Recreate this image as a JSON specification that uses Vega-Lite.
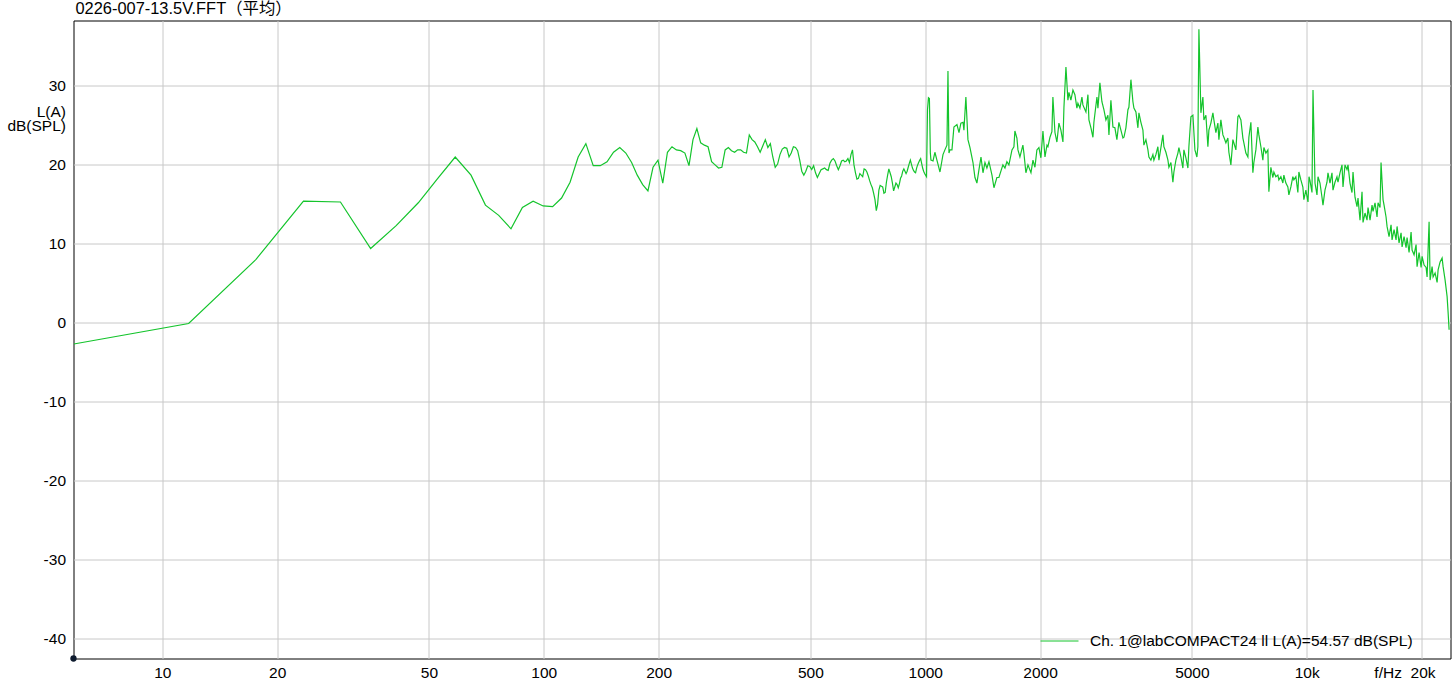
{
"$schema": "https://vega.github.io/schema/vega-lite/v6.json",
"width": 1377, "height": 638,
"autosize": {"type": "none"},
"padding": {"left": 73.5, "top": 20.5, "right": 1, "bottom": 33},
"background": "white",
"config": {"view": {"stroke": "#000", "strokeWidth": 1}, "font": "Liberation Sans"},
"title": {"text": "0226-007-13.5V.FFT（平均）", "anchor": "start", "frame": "group", "orient": "top", "baseline": "alphabetic", "offset": 7, "dx": 2, "dy": 17, "fontSize": 16.4, "fontWeight": "normal", "font": "Liberation Sans, Noto Sans CJK SC", "color": "#000"},
"datasets": {
"origin": [{"f": 5.849, "db": -42.56}],
"spectrum": [
{"f":5.86,"db":-2.7},{"f":11.72,"db":-0.1},{"f":17.58,"db":8.0},{"f":23.44,"db":15.4},{"f":29.3,"db":15.3},{"f":35.16,"db":9.4},{"f":41.02,"db":12.3},{"f":46.88,"db":15.2},{"f":52.73,"db":18.3},{"f":58.59,"db":21.0},
{"f":64.45,"db":18.7},{"f":70.31,"db":14.9},{"f":76.17,"db":13.6},{"f":82.03,"db":11.9},{"f":87.89,"db":14.6},{"f":93.75,"db":15.4},{"f":99.61,"db":14.8},{"f":105.47,"db":14.7},{"f":111.33,"db":15.8},{"f":117.19,"db":17.8},
{"f":123.05,"db":21.0},{"f":128.91,"db":22.7},{"f":134.77,"db":19.9},{"f":140.63,"db":19.9},{"f":146.48,"db":20.4},{"f":152.34,"db":21.6},{"f":158.2,"db":22.2},{"f":164.06,"db":21.5},{"f":169.92,"db":20.3},{"f":175.78,"db":18.7},
{"f":181.64,"db":17.5},{"f":187.5,"db":16.7},{"f":193.36,"db":19.7},{"f":199.22,"db":20.6},{"f":205.08,"db":17.7},{"f":210.94,"db":21.6},{"f":216.8,"db":22.3},{"f":222.66,"db":21.9},{"f":228.52,"db":21.8},{"f":234.38,"db":21.5},
{"f":240.23,"db":19.9},{"f":246.09,"db":23.2},{"f":251.95,"db":24.6},{"f":257.81,"db":22.8},{"f":263.67,"db":22.5},{"f":269.53,"db":22.3},{"f":275.39,"db":20.4},{"f":281.25,"db":20.0},{"f":287.11,"db":19.6},{"f":292.97,"db":19.7},
{"f":298.83,"db":21.9},{"f":304.69,"db":22.2},{"f":310.55,"db":21.8},{"f":316.41,"db":21.6},{"f":322.27,"db":21.9},{"f":328.13,"db":21.9},{"f":333.98,"db":21.6},{"f":339.84,"db":21.5},{"f":345.7,"db":23.8},{"f":351.56,"db":23.2},
{"f":357.42,"db":22.9},{"f":363.28,"db":22.3},{"f":369.14,"db":21.6},{"f":375.0,"db":22.4},{"f":380.86,"db":23.2},{"f":386.72,"db":22.2},{"f":392.58,"db":22.7},{"f":398.44,"db":21.0},{"f":404.3,"db":19.7},{"f":410.16,"db":20.1},
{"f":416.02,"db":21.3},{"f":421.88,"db":22.0},{"f":427.73,"db":22.2},{"f":433.59,"db":22.1},{"f":439.45,"db":21.0},{"f":445.31,"db":21.5},{"f":451.17,"db":22.3},{"f":457.03,"db":22.2},{"f":462.89,"db":21.8},{"f":468.75,"db":20.6},
{"f":474.61,"db":19.2},{"f":480.47,"db":18.7},{"f":486.33,"db":19.2},{"f":492.19,"db":19.9},{"f":498.05,"db":19.8},{"f":503.91,"db":19.4},{"f":509.77,"db":19.9},{"f":515.63,"db":19.0},{"f":521.48,"db":18.4},{"f":527.34,"db":18.9},
{"f":533.2,"db":19.4},{"f":539.06,"db":19.5},{"f":544.92,"db":19.6},{"f":550.78,"db":19.4},{"f":556.64,"db":19.3},{"f":562.5,"db":20.2},{"f":568.36,"db":20.6},{"f":574.22,"db":20.8},{"f":580.08,"db":20.5},{"f":585.94,"db":19.9},
{"f":591.8,"db":19.4},{"f":597.66,"db":19.9},{"f":603.52,"db":20.5},{"f":609.38,"db":20.6},{"f":615.23,"db":20.4},{"f":621.09,"db":20.5},{"f":626.95,"db":20.8},{"f":632.81,"db":20.3},{"f":638.67,"db":21.3},{"f":644.53,"db":21.9},
{"f":650.39,"db":20.0},{"f":656.25,"db":19.0},{"f":662.11,"db":18.2},{"f":667.97,"db":18.3},{"f":673.83,"db":18.9},{"f":679.69,"db":18.7},{"f":685.55,"db":18.5},{"f":691.41,"db":19.5},{"f":697.27,"db":19.4},{"f":703.13,"db":19.1},
{"f":708.98,"db":18.6},{"f":714.84,"db":18.0},{"f":720.7,"db":17.5},{"f":726.56,"db":17.1},{"f":732.42,"db":16.4},{"f":738.28,"db":15.6},{"f":744.14,"db":14.2},{"f":750.0,"db":15.0},{"f":755.86,"db":16.8},{"f":761.72,"db":17.4},
{"f":767.58,"db":17.3},{"f":773.44,"db":17.2},{"f":779.3,"db":16.4},{"f":785.16,"db":16.5},{"f":791.02,"db":17.8},{"f":796.88,"db":18.7},{"f":802.73,"db":19.5},{"f":808.59,"db":19.0},{"f":814.45,"db":18.5},{"f":820.31,"db":17.7},
{"f":826.17,"db":16.7},{"f":832.03,"db":17.2},{"f":837.89,"db":17.7},{"f":843.75,"db":17.5},{"f":849.61,"db":17.1},{"f":855.47,"db":17.6},{"f":861.33,"db":18.3},{"f":867.19,"db":18.6},{"f":873.05,"db":19.2},{"f":878.91,"db":19.5},
{"f":884.77,"db":19.2},{"f":890.63,"db":18.9},{"f":896.48,"db":19.2},{"f":902.34,"db":19.7},{"f":908.2,"db":20.2},{"f":914.06,"db":20.6},{"f":919.92,"db":20.1},{"f":925.78,"db":19.6},{"f":931.64,"db":19.3},{"f":937.5,"db":19.1},
{"f":943.36,"db":19.0},{"f":949.22,"db":19.6},{"f":955.08,"db":20.0},{"f":960.94,"db":20.3},{"f":966.8,"db":20.6},{"f":972.66,"db":20.8},{"f":978.52,"db":20.2},{"f":984.38,"db":19.6},{"f":990.23,"db":19.2},{"f":996.09,"db":18.9},
{"f":1001.95,"db":18.7},{"f":1007.81,"db":18.5},{"f":1013.67,"db":27.0},{"f":1019.53,"db":28.5},{"f":1025.39,"db":28.4},{"f":1031.25,"db":21.5},
{"f":1035,"db":20.6},{"f":1048,"db":20.5},{"f":1060,"db":21.6},{"f":1073,"db":20.6},{"f":1093,"db":19.1},{"f":1113,"db":21.3},{"f":1126,"db":21.9},{"f":1140,"db":22.5},{"f":1147,"db":31.9},{"f":1154,"db":21.5},
{"f":1161,"db":21.9},{"f":1175,"db":21.9},{"f":1189,"db":24.8},{"f":1211,"db":25.1},{"f":1226,"db":24.1},{"f":1240,"db":25.3},{"f":1256,"db":25.4},{"f":1263,"db":24.4},{"f":1278,"db":28.6},{"f":1294,"db":23.2},
{"f":1310,"db":22.2},{"f":1334,"db":20.3},{"f":1350,"db":18.4},{"f":1366,"db":17.7},{"f":1383,"db":19.4},{"f":1400,"db":21.0},{"f":1417,"db":19.0},{"f":1434,"db":20.3},{"f":1451,"db":19.6},{"f":1469,"db":20.4},
{"f":1496,"db":18.7},{"f":1514,"db":17.1},{"f":1541,"db":18.4},{"f":1560,"db":18.4},{"f":1598,"db":20.0},{"f":1618,"db":19.6},{"f":1637,"db":20.4},{"f":1657,"db":20.0},{"f":1688,"db":21.9},{"f":1708,"db":22.3},
{"f":1718,"db":24.3},{"f":1739,"db":23.4},{"f":1750,"db":21.9},{"f":1771,"db":21.0},{"f":1803,"db":22.5},{"f":1814,"db":21.5},{"f":1836,"db":19.0},{"f":1859,"db":20.0},{"f":1893,"db":19.0},{"f":1916,"db":20.6},
{"f":1939,"db":19.7},{"f":1962,"db":21.9},{"f":1986,"db":22.2},{"f":2010,"db":20.9},{"f":2035,"db":24.3},{"f":2060,"db":21.0},{"f":2085,"db":22.5},{"f":2097,"db":22.3},{"f":2123,"db":23.5},{"f":2148,"db":24.2},
{"f":2161,"db":28.6},{"f":2188,"db":24.1},{"f":2214,"db":22.9},{"f":2241,"db":25.3},{"f":2268,"db":24.4},{"f":2296,"db":22.9},{"f":2310,"db":27.3},{"f":2338,"db":32.4},{"f":2366,"db":28.2},{"f":2381,"db":29.2},
{"f":2409,"db":28.2},{"f":2439,"db":29.5},{"f":2468,"db":28.9},{"f":2498,"db":27.2},{"f":2513,"db":27.8},{"f":2544,"db":27.2},{"f":2575,"db":28.6},{"f":2590,"db":27.6},{"f":2638,"db":26.7},{"f":2670,"db":28.9},
{"f":2686,"db":25.7},{"f":2719,"db":24.7},{"f":2752,"db":23.5},{"f":2768,"db":25.4},{"f":2819,"db":28.6},{"f":2836,"db":27.2},{"f":2870,"db":30.4},{"f":2905,"db":28.0},{"f":2940,"db":27.0},{"f":2976,"db":25.7},
{"f":3012,"db":26.3},{"f":3031,"db":23.8},{"f":3067,"db":28.2},{"f":3105,"db":24.8},{"f":3142,"db":24.7},{"f":3180,"db":23.2},{"f":3219,"db":25.4},{"f":3258,"db":24.4},{"f":3298,"db":23.4},{"f":3318,"db":23.5},
{"f":3358,"db":24.7},{"f":3399,"db":27.0},{"f":3419,"db":27.3},{"f":3461,"db":30.8},{"f":3503,"db":28.0},{"f":3524,"db":27.2},{"f":3567,"db":26.7},{"f":3610,"db":24.7},{"f":3632,"db":26.6},{"f":3676,"db":25.4},
{"f":3721,"db":24.4},{"f":3743,"db":22.5},{"f":3789,"db":23.2},{"f":3835,"db":21.9},{"f":3858,"db":21.0},{"f":3905,"db":20.6},{"f":3952,"db":21.3},{"f":3976,"db":20.6},{"f":4024,"db":21.3},{"f":4073,"db":22.3},
{"f":4098,"db":20.6},{"f":4148,"db":22.2},{"f":4198,"db":23.8},{"f":4223,"db":22.3},{"f":4275,"db":21.6},{"f":4327,"db":20.6},{"f":4353,"db":19.7},{"f":4406,"db":20.3},{"f":4459,"db":17.8},{"f":4486,"db":19.1},
{"f":4541,"db":20.6},{"f":4596,"db":21.5},{"f":4624,"db":22.2},{"f":4680,"db":21.0},{"f":4736,"db":19.6},{"f":4765,"db":21.9},{"f":4823,"db":20.9},{"f":4882,"db":19.6},{"f":4911,"db":22.3},{"f":4971,"db":26.1},
{"f":5031,"db":26.3},{"f":5093,"db":21.9},{"f":5154,"db":21.0},{"f":5185,"db":22.3},{"f":5217,"db":37.2},{"f":5280,"db":26.6},{"f":5344,"db":28.6},{"f":5376,"db":25.7},{"f":5442,"db":26.3},{"f":5508,"db":22.3},
{"f":5541,"db":24.4},{"f":5608,"db":25.3},{"f":5677,"db":26.6},{"f":5711,"db":25.7},{"f":5780,"db":24.1},{"f":5850,"db":25.3},{"f":5886,"db":23.2},{"f":5957,"db":25.7},{"f":6030,"db":23.8},{"f":6066,"db":23.5},
{"f":6140,"db":22.8},{"f":6214,"db":23.4},{"f":6252,"db":21.6},{"f":6328,"db":20.0},{"f":6405,"db":23.2},{"f":6443,"db":22.8},{"f":6522,"db":21.9},{"f":6601,"db":26.1},{"f":6641,"db":26.3},{"f":6722,"db":25.7},
{"f":6803,"db":23.4},{"f":6844,"db":22.8},{"f":6927,"db":21.5},{"f":7012,"db":21.0},{"f":7054,"db":23.5},{"f":7140,"db":25.4},{"f":7226,"db":19.0},{"f":7270,"db":20.3},{"f":7358,"db":21.9},{"f":7448,"db":24.8},
{"f":7493,"db":23.8},{"f":7584,"db":22.3},{"f":7676,"db":20.6},{"f":7722,"db":22.2},{"f":7816,"db":21.5},{"f":7911,"db":21.9},{"f":7959,"db":16.6},{"f":8056,"db":19.7},{"f":8153,"db":18.4},{"f":8203,"db":19.1},
{"f":8302,"db":18.5},{"f":8403,"db":18.7},{"f":8454,"db":18.1},{"f":8557,"db":18.5},{"f":8661,"db":17.7},{"f":8713,"db":18.7},{"f":8819,"db":17.7},{"f":8926,"db":17.2},{"f":8980,"db":16.2},{"f":9089,"db":17.2},
{"f":9199,"db":18.5},{"f":9255,"db":18.1},{"f":9368,"db":18.5},{"f":9481,"db":16.5},{"f":9539,"db":19.1},{"f":9655,"db":18.1},{"f":9772,"db":17.2},{"f":9831,"db":15.6},{"f":9950,"db":16.8},{"f":10079,"db":15.3},
{"f":10140,"db":18.5},{"f":10201,"db":18.0},{"f":10325,"db":16.5},{"f":10388,"db":29.5},{"f":10514,"db":17.7},{"f":10641,"db":16.2},{"f":10706,"db":18.5},{"f":10835,"db":17.7},{"f":10967,"db":15.9},{"f":11033,"db":14.9},
{"f":11167,"db":16.8},{"f":11303,"db":17.8},{"f":11371,"db":19.0},{"f":11509,"db":17.7},{"f":11649,"db":19.0},{"f":11720,"db":16.8},{"f":11862,"db":17.8},{"f":12006,"db":18.5},{"f":12079,"db":17.8},{"f":12226,"db":19.0},
{"f":12375,"db":20.0},{"f":12450,"db":17.2},{"f":12601,"db":20.0},{"f":12754,"db":19.4},{"f":12832,"db":20.0},{"f":12988,"db":17.7},{"f":13146,"db":16.5},{"f":13226,"db":19.1},{"f":13386,"db":15.9},{"f":13549,"db":14.7},
{"f":13631,"db":15.8},{"f":13797,"db":13.0},{"f":13965,"db":16.6},{"f":14050,"db":12.7},{"f":14220,"db":13.9},{"f":14393,"db":13.0},{"f":14481,"db":14.6},{"f":14657,"db":13.0},{"f":14835,"db":14.9},{"f":14925,"db":14.1},
{"f":15106,"db":15.2},{"f":15290,"db":13.4},{"f":15383,"db":15.2},{"f":15570,"db":14.6},{"f":15664,"db":20.3},{"f":15855,"db":15.6},{"f":15951,"db":14.9},{"f":16145,"db":13.4},{"f":16243,"db":12.2},{"f":16440,"db":10.9},
{"f":16640,"db":12.4},{"f":16741,"db":10.5},{"f":16945,"db":11.8},{"f":17151,"db":10.5},{"f":17255,"db":12.2},{"f":17464,"db":10.1},{"f":17677,"db":11.4},{"f":17784,"db":9.6},{"f":18000,"db":10.9},{"f":18219,"db":9.5},
{"f":18329,"db":10.8},{"f":18552,"db":8.9},{"f":18778,"db":11.5},{"f":18892,"db":9.2},{"f":19121,"db":8.6},{"f":19354,"db":9.9},{"f":19471,"db":7.1},{"f":19708,"db":8.9},{"f":19948,"db":7.0},{"f":20068,"db":8.4},
{"f":20312,"db":7.3},{"f":20560,"db":7.0},{"f":20684,"db":5.8},{"f":20935,"db":12.8},{"f":21062,"db":5.4},{"f":21318,"db":7.1},{"f":21447,"db":5.8},{"f":21708,"db":6.3},{"f":21972,"db":5.1},{"f":22105,"db":6.7},
{"f":22374,"db":7.7},{"f":22646,"db":8.2},{"f":22783,"db":7.1},{"f":23060,"db":5.4},{"f":23340,"db":3.3},{"f":23482,"db":1.3},{"f":23624,"db":-0.9}
]
},
"layer": [
{
"data": {"name": "spectrum"},
"mark": {"type": "line", "strokeWidth": 1.2, "interpolate": "linear", "clip": true},
"encoding": {
"x": {"field": "f", "type": "quantitative",
 "scale": {"type": "log", "domain": [5.849, 23823], "nice": false},
 "axis": {"values": [10,20,50,100,200,500,1000,2000,5000,10000,20000],
  "labelExpr": "datum.value == 20000 ? 'f/Hz\u00a0\u00a020k' : datum.value == 10000 ? '10k' : '' + datum.value",
  "title": null, "domain": false, "ticks": false, "labelPadding": 7, "labelFontSize": 15.5, "labelColor": "#000",
  "labelFlush": false, "labelOverlap": false, "labelBaseline": "top",
  "labelAlign": {"condition": {"test": "datum.value == 20000", "value": "right"}, "value": "center"},
  "labelOffset": {"condition": {"test": "datum.value == 20000", "value": 13.5}, "value": 0},
  "grid": true, "gridColor": "#c8c8c8", "gridWidth": 1}},
"y": {"field": "db", "type": "quantitative",
 "scale": {"domain": [-42.56, 38.3], "nice": false, "zero": false},
 "axis": {"values": [-40,-30,-20,-10,0,10,20,30], "labelExpr": "'' + datum.value", "title": ["L(A)", "dB(SPL)"], "titleAngle": 0, "titleAlign": "right",
  "titleBaseline": "top", "titleX": -8, "titleY": 83.5, "titleFontSize": 15.5, "titleFontWeight": "normal", "titleColor": "#000",
  "titleLineHeight": 14, "domain": false, "ticks": false, "labelPadding": 8, "labelFontSize": 15.5, "labelColor": "#000",
  "labelFlush": false, "grid": true, "gridColor": "#c8c8c8", "gridWidth": 1}},
"color": {"datum": "Ch. 1@labCOMPACT24 ll L(A)=54.57 dB(SPL)", "type": "nominal",
 "scale": {"range": ["#14c42c"]},
 "legend": {"orient": "none", "legendX": 966.5, "legendY": 601, "title": null, "symbolType": "stroke", "symbolSize": 1444,
  "symbolStrokeWidth": 1, "labelFontSize": 15.5, "labelColor": "#000", "labelLimit": 0, "labelOffset": 11, "padding": 0}}
}
},
{
"data": {"name": "origin"},
"mark": {"type": "point", "filled": true, "size": 40, "color": "#0d1a2e", "opacity": 1},
"encoding": {"x": {"field": "f", "type": "quantitative"}, "y": {"field": "db", "type": "quantitative"}}
}
]
}
